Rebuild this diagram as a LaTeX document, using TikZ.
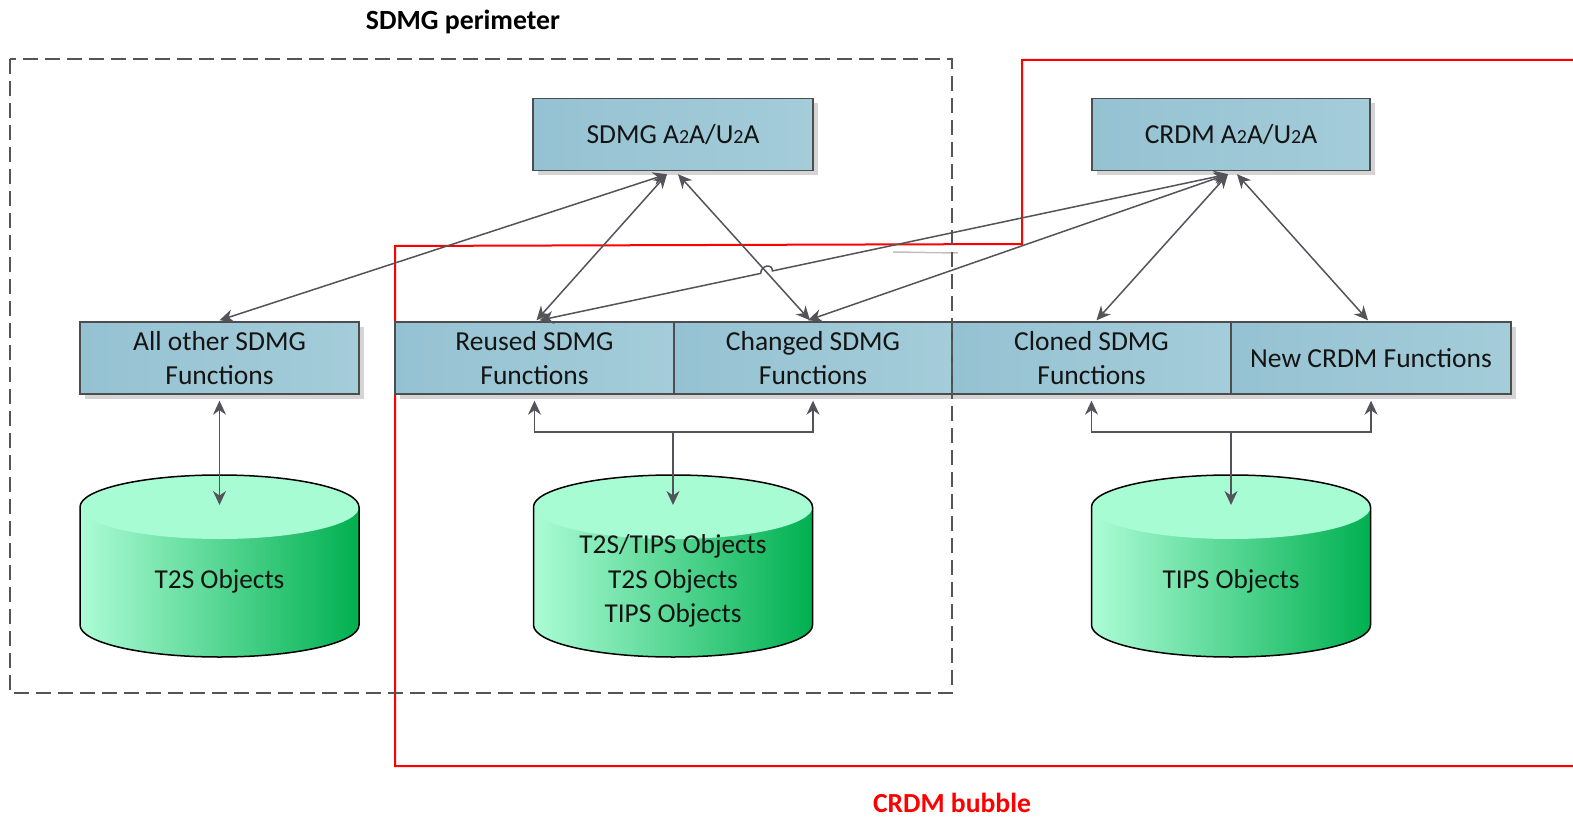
\documentclass[tikz,border=0pt]{standalone}
\usepackage{fontspec}
\setmainfont{Carlito}
\usetikzlibrary{arrows.meta,shadows,calc}
\definecolor{boxA}{HTML}{95C2D2}
\definecolor{boxB}{HTML}{A4CCD9}
\definecolor{boxline}{HTML}{4D4D50}
\definecolor{arrgray}{HTML}{535359}
\definecolor{cylA}{HTML}{A8FCD4}
\definecolor{cylB}{HTML}{00B050}
\definecolor{perigray}{HTML}{555555}
\newcommand\ostwo{{\fontsize{20}{20}\selectfont 2}}
\begin{document}
\begin{tikzpicture}[x=1pt,y=-1pt,
  fbox/.style={draw=boxline,line width=1.4pt,left color=boxA,right color=boxB,
    minimum width=#1,minimum height=72pt,inner sep=0pt,align=center,
    text=black!92,font=\fontsize{27.5}{34}\selectfont,
    drop shadow={shadow xshift=5pt,shadow yshift=-5pt,fill=black!17,opacity=1}},
  conn/.style={draw=arrgray,line width=1.5pt,
    {Stealth[length=14pt,width=13pt,inset=4.5pt]}-{Stealth[length=14pt,width=13pt,inset=4.5pt]}},
  connE/.style={draw=arrgray,line width=1.5pt,-{Stealth[length=14pt,width=13pt,inset=4.5pt]}},
  cyltext/.style={align=center,font=\fontsize{27.3}{34.5}\selectfont,text=black!92},
  dbcyl/.pic={
    \fill[left color=cylA!95!white,right color=cylB]
      (-139.5,0) -- (-139.5,118) arc[start angle=180,end angle=360,x radius=139.5pt,y radius=32pt]
      -- (139.5,0) arc[start angle=0,end angle=180,x radius=139.5pt,y radius=32pt] -- cycle;
    \fill[cylA] (0,0) ellipse[x radius=139.5pt,y radius=32pt];
    \draw[black,line width=1.5pt]
      (-139.5,0) arc[start angle=180,end angle=0,x radius=139.5pt,y radius=32pt]
      -- (139.5,118) arc[start angle=0,end angle=-180,x radius=139.5pt,y radius=32pt] -- cycle;
  }]
\useasboundingbox (0,0) rectangle (1573,818);

% red CRDM bubble
\draw[red,line width=2pt] (1573,60) -- (1022,60) -- (1022,244) -- (395,246) -- (395,766) -- (1573,766);
\draw[black!25,line width=1.5pt] (893,252) -- (958,253);

% boxes
\node[fbox=280pt] (sdmg) at (673,134.5) {SDMG A\ostwo A/U\ostwo A};
\node[fbox=278pt] (crdm) at (1231,134.5) {CRDM A\ostwo A/U\ostwo A};
\node[fbox=279pt] (allother) at (219.5,358) {All other SDMG\\Functions};
\node[fbox=279pt] (reused) at (534.5,358) {Reused SDMG\\Functions};
\node[fbox=278pt] (changed) at (813,358) {Changed SDMG\\Functions};
\node[fbox=279pt] (cloned) at (1091.5,358) {Cloned SDMG\\Functions};
\node[fbox=280pt] (newf) at (1371,358) {New CRDM Functions};

% cylinders
\pic at (219.5,507) {dbcyl};
\pic at (673,507) {dbcyl};
\pic at (1231,507) {dbcyl};
\node[cyltext] (cyl1) at (219.5,581) {T2S Objects};
\node[cyltext] (cyl2) at (673,581) {T2S/TIPS Objects\\T2S Objects\\TIPS Objects};
\node[cyltext] (cyl3) at (1231,581) {TIPS Objects};
\coordinate (cyl1top) at (219.5,505);
\coordinate (cyl2top) at (673,505);
\coordinate (cyl3top) at (1231,505);

% SDMG perimeter
\draw[perigray,line width=1.5pt,dash pattern=on 15pt off 7pt] (10,59) rectangle (952,693);

% connector end points
\coordinate (sa) at ([xshift=-6pt,yshift=-3pt]sdmg.south);
\coordinate (sb) at ([xshift=5pt,yshift=-3pt]sdmg.south);
\coordinate (ca) at ([xshift=-3pt,yshift=-3pt]crdm.south);
\coordinate (cb) at ([xshift=6pt,yshift=-3pt]crdm.south);
\coordinate (oa) at ([yshift=1pt]allother.north);
\coordinate (ra) at ([xshift=2pt,yshift=1pt]reused.north);
\coordinate (rb) at ([xshift=5pt,yshift=1pt]reused.north);
\coordinate (ha) at ([xshift=-3pt,yshift=1pt]changed.north);
\coordinate (hb) at ([xshift=-5pt,yshift=1pt]changed.north);
\coordinate (la) at ([xshift=5pt,yshift=1pt]cloned.north);
\coordinate (na) at ([xshift=-3pt,yshift=1pt]newf.north);

\draw[conn] (sa) -- (oa);
\draw[conn] (sa) -- (ra);
\draw[conn] (sb) -- (ha);
\coordinate (X) at (intersection of sb--ha and ca--rb);
\draw[conn] (ca) -- ($(X)!6pt!(ca)$) .. controls +(0,-8) and +(0,-8) .. ($(X)!6pt!(rb)$) -- (rb);
\draw[conn] (ca) -- (hb);
\draw[conn] (ca) -- (la);
\draw[conn] (cb) -- (na);

% lower connectors
\draw[conn] ([yshift=-6pt]allother.south) -- (cyl1top);
\coordinate (j1) at (673,432);
\coordinate (j2) at (1231,432);
\draw[conn] ([yshift=-6pt]reused.south) |- (j1) -| ([yshift=-6pt]changed.south);
\draw[connE] (j1) -- (cyl2top);
\draw[conn] ([yshift=-6pt]cloned.south) |- (j2) -| ([yshift=-6pt]newf.south);
\draw[connE] (j2) -- (cyl3top);

% titles
\node[font=\fontsize{27.8}{30}\selectfont\bfseries] (ttl) at (463,22) {SDMG perimeter};
\node[font=\fontsize{27.6}{30}\selectfont\bfseries,text=red] (bub) at (952,803) {CRDM bubble};
\end{tikzpicture}
\end{document}
